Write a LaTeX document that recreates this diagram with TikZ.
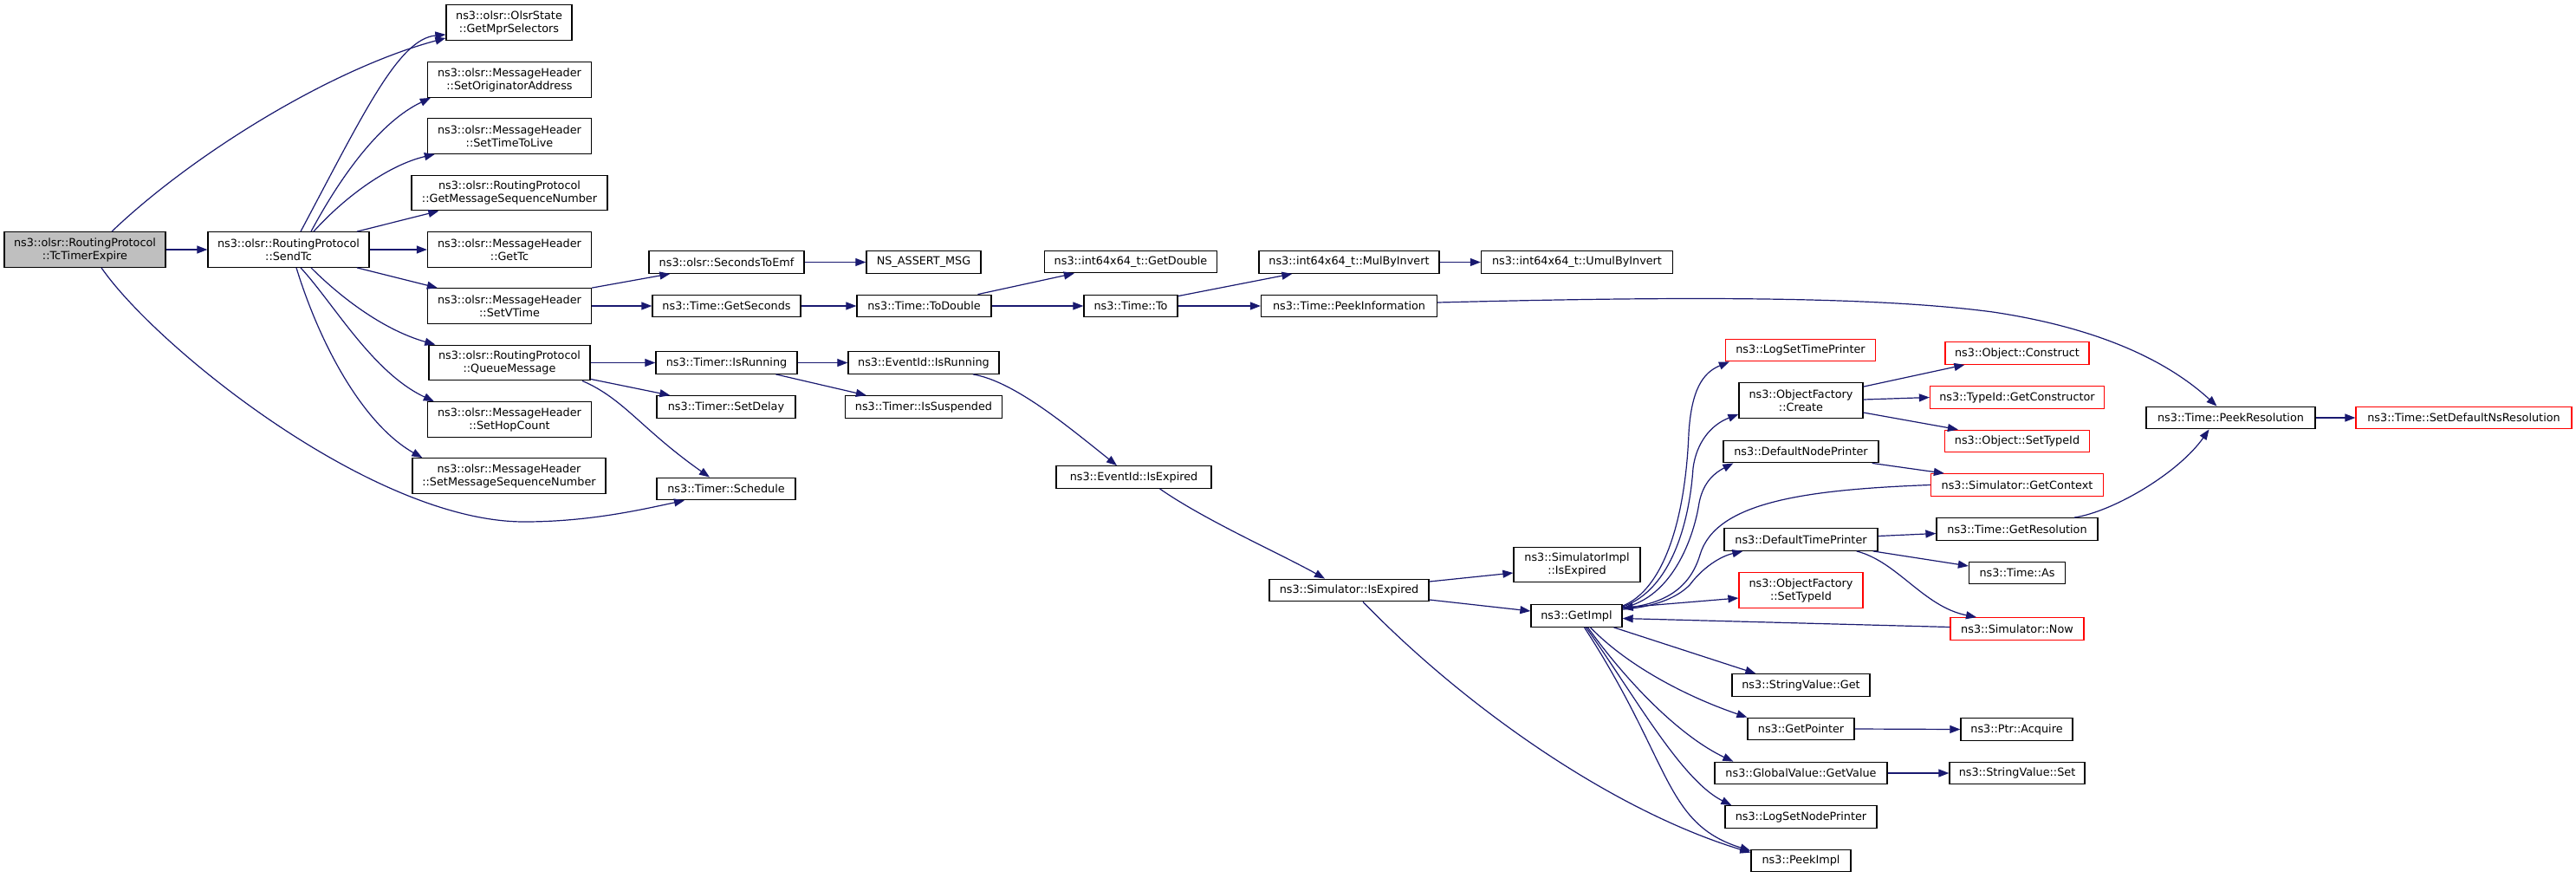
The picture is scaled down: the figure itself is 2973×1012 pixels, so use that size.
\documentclass[tikz,border=0pt]{standalone}
\usepackage{fontspec}
\setmainfont{DejaVu Sans}
\usetikzlibrary{arrows.meta}
\definecolor{edgecol}{RGB}{25,25,112}
\definecolor{grayfill}{RGB}{191,191,191}
\begin{document}
\begin{tikzpicture}[x=1pt,y=-1pt,
  box/.style={draw=black, line width=1.3pt, fill=white, inner sep=0pt, align=center,
    font=\fontsize{12.8}{15}\selectfont, minimum height=25.5pt},
  box2/.style={box, minimum height=40.5pt},
  redbox/.style={draw=red},
  edge/.style={draw=edgecol, line width=1.2pt, -{Triangle[length=12pt,width=9pt]}},
]
\useasboundingbox[fill=white] (0,0) rectangle (2973,1012);

% column 1-2
\node[box2, fill=grayfill, minimum width=186pt] (tcexp) at (98,288) {ns3::olsr::RoutingProtocol\\::TcTimerExpire};
\node[box2, minimum width=186pt] (sendtc) at (333,288) {ns3::olsr::RoutingProtocol\\::SendTc};
% column 3
\node[box2, minimum width=145pt] (getmpr) at (587.5,26) {ns3::olsr::OlsrState\\::GetMprSelectors};
\node[box2, minimum width=189pt] (setorig) at (588,92) {ns3::olsr::MessageHeader\\::SetOriginatorAddress};
\node[box2, minimum width=189pt] (setttl) at (588,157) {ns3::olsr::MessageHeader\\::SetTimeToLive};
\node[box2, minimum width=226pt] (getmsn) at (588,222.5) {ns3::olsr::RoutingProtocol\\::GetMessageSequenceNumber};
\node[box2, minimum width=189pt] (gettc) at (588,288) {ns3::olsr::MessageHeader\\::GetTc};
\node[box2, minimum width=189pt] (setvtime) at (588,353) {ns3::olsr::MessageHeader\\::SetVTime};
\node[box2, minimum width=186pt] (queue) at (588,418.5) {ns3::olsr::RoutingProtocol\\::QueueMessage};
\node[box2, minimum width=189pt] (sethop) at (588,484) {ns3::olsr::MessageHeader\\::SetHopCount};
\node[box2, minimum width=223pt] (setmsn) at (587.5,549) {ns3::olsr::MessageHeader\\::SetMessageSequenceNumber};
% column 4
\node[box, minimum width=179pt] (secemf) at (838.5,302.5) {ns3::olsr::SecondsToEmf};
\node[box, minimum width=171pt] (getsec) at (838.5,353) {ns3::Time::GetSeconds};
\node[box, minimum width=163pt] (tisrun) at (838.5,418.5) {ns3::Timer::IsRunning};
\node[box, minimum width=160pt] (setdelay) at (838,469.5) {ns3::Timer::SetDelay};
\node[box, minimum width=160pt] (sched) at (838,564) {ns3::Timer::Schedule};
% column 5
\node[box, minimum width=132pt] (nsassert) at (1066,302.5) {NS\_ASSERT\_MSG};
\node[box, minimum width=155pt] (todouble) at (1066.5,353) {ns3::Time::ToDouble};
\node[box, minimum width=174pt] (eisrun) at (1066,418.5) {ns3::EventId::IsRunning};
\node[box, minimum width=181pt] (issusp) at (1066,469.5) {ns3::Timer::IsSuspended};
% column 6
\node[box, minimum width=199pt] (getdouble) at (1305,302) {ns3::int64x64\_t::GetDouble};
\node[box, minimum width=108pt] (timeto) at (1305,353) {ns3::Time::To};
\node[box, minimum width=179pt] (eisexp) at (1308.5,550.5) {ns3::EventId::IsExpired};
% column 7
\node[box, minimum width=208pt] (mulinv) at (1557,302.5) {ns3::int64x64\_t::MulByInvert};
\node[box, minimum width=203pt] (peekinfo) at (1557,353) {ns3::Time::PeekInformation};
\node[box, minimum width=184pt] (simisexp) at (1557,681) {ns3::Simulator::IsExpired};
% column 8
\node[box, minimum width=221pt] (umulinv) at (1820,302.5) {ns3::int64x64\_t::UmulByInvert};
\node[box2, minimum width=146pt] (implisexp) at (1820,651.5) {ns3::SimulatorImpl\\::IsExpired};
\node[box, minimum width=105pt] (getimpl) at (1819.5,710.5) {ns3::GetImpl};
% column 9
\node[box, redbox, minimum width=173pt] (logtime) at (2078,404) {ns3::LogSetTimePrinter};
\node[box2, minimum width=143pt] (ofcreate) at (2078.5,462) {ns3::ObjectFactory\\::Create};
\node[box, minimum width=179pt] (defnode) at (2078.5,521) {ns3::DefaultNodePrinter};
\node[box, minimum width=177pt] (deftime) at (2078.5,622.5) {ns3::DefaultTimePrinter};
\node[box2, redbox, minimum width=143pt] (ofsettype) at (2078.5,681) {ns3::ObjectFactory\\::SetTypeId};
\node[box, minimum width=159pt] (svget) at (2078.5,790.5) {ns3::StringValue::Get};
\node[box, minimum width=123pt] (getptr) at (2078.5,841) {ns3::GetPointer};
\node[box, minimum width=199pt] (gvget) at (2078.5,892) {ns3::GlobalValue::GetValue};
\node[box, minimum width=175pt] (lognode) at (2078.5,942.5) {ns3::LogSetNodePrinter};
\node[box, minimum width=115pt] (peekimpl) at (2078.5,993) {ns3::PeekImpl};
% column 10
\node[box, redbox, minimum width=166pt] (objconst) at (2328,407.5) {ns3::Object::Construct};
\node[box, redbox, minimum width=201pt] (getctor) at (2328,458.5) {ns3::TypeId::GetConstructor};
\node[box, redbox, minimum width=167pt] (objsettype) at (2328,509) {ns3::Object::SetTypeId};
\node[box, redbox, minimum width=199pt] (getctx) at (2328,559.5) {ns3::Simulator::GetContext};
\node[box, minimum width=186pt] (getres) at (2328,610.5) {ns3::Time::GetResolution};
\node[box, minimum width=111pt] (timeas) at (2328,661) {ns3::Time::As};
\node[box, redbox, minimum width=154pt] (simnow) at (2328,725.5) {ns3::Simulator::Now};
\node[box, minimum width=129pt] (ptracq) at (2327.5,841.5) {ns3::Ptr::Acquire};
\node[box, minimum width=156pt] (svset) at (2328,892) {ns3::StringValue::Set};
% column 11-12
\node[box, minimum width=195pt] (peekres) at (2574.5,482) {ns3::Time::PeekResolution};
\node[box, redbox, minimum width=249pt] (setdefres) at (2843.5,482) {ns3::Time::SetDefaultNsResolution};

% edges from TcTimerExpire
\draw[edge] ([xshift=31pt]tcexp.north) .. controls (220,180) and (380,80) .. ([yshift=3pt]getmpr.south west);
\draw[edge] (tcexp.east) -- (sendtc.west);
\draw[edge] ([xshift=19pt]tcexp.south) .. controls (180,400) and (430,602) .. (605,602)
  .. controls (680,602) and (740,588) .. ([xshift=-48pt]sched.south);

% edges from SendTc
\draw[edge] ([xshift=14pt]sendtc.north) .. controls (420,130) and (460,45) .. ([yshift=7pt]getmpr.south west);
\draw[edge] ([xshift=26pt]sendtc.north) .. controls (395,200) and (440,140) .. ([xshift=4pt]setorig.south west);
\draw[edge] ([xshift=29pt]sendtc.north) .. controls (400,225) and (450,190) .. ([xshift=9pt]setttl.south west);
\draw[edge] ([xshift=79pt]sendtc.north) -- ([xshift=32pt]getmsn.south west);
\draw[edge] (sendtc.east) -- (gettc.west);
\draw[edge] ([xshift=79pt]sendtc.south) -- ([xshift=12pt]setvtime.north west);
\draw[edge] ([xshift=26pt]sendtc.south) .. controls (390,340) and (440,380) .. ([xshift=8pt]queue.north west);
\draw[edge] ([xshift=14pt]sendtc.south) .. controls (385,350) and (430,430) .. ([xshift=8pt]sethop.north west);
\draw[edge] ([xshift=9pt]sendtc.south) .. controls (370,400) and (420,490) .. ([xshift=12pt]setmsn.north west);

% SetVTime chain
\draw[edge] (setvtime.north east) -- ([xshift=25pt]secemf.south west);
\draw[edge] (setvtime.east) -- (getsec.west);
\draw[edge] (secemf.east) -- (nsassert.west);
\draw[edge] (getsec.east) -- (todouble.west);
\draw[edge] ([xshift=62pt]todouble.north) -- ([xshift=35pt]getdouble.south west);
\draw[edge] (todouble.east) -- (timeto.west);
\draw[edge] ([yshift=-2pt]timeto.north east) -- ([xshift=39pt]mulinv.south west);
\draw[edge] (timeto.east) -- (peekinfo.west);
\draw[edge] (mulinv.east) -- (umulinv.west);
\draw[edge] ([yshift=4pt]peekinfo.east) .. controls (1900,343) and (2150,340) .. (2300,360)
  .. controls (2420,378) and (2500,415) .. ([xshift=-16pt]peekres.north);

% QueueMessage chain
\draw[edge] (queue.east) -- (tisrun.west);
\draw[edge] ([yshift=2pt]queue.south east) -- ([xshift=16pt]setdelay.north west);
\draw[edge] ([xshift=84pt]queue.south) .. controls (720,460) and (740,495) .. ([xshift=-19pt]sched.north);
\draw[edge] (tisrun.east) -- (eisrun.west);
\draw[edge] ([xshift=57pt]tisrun.south) -- ([xshift=25pt]issusp.north west);
\draw[edge] ([xshift=57pt]eisrun.south) .. controls (1170,440) and (1230,490) .. ([xshift=-19.5pt]eisexp.north);
\draw[edge] ([xshift=30pt]eisexp.south) .. controls (1390,600) and (1480,640) .. ([xshift=-28pt]simisexp.north);

% Simulator::IsExpired
\draw[edge] ([yshift=10pt]simisexp.east) -- ([yshift=-9.5pt]implisexp.west);
\draw[edge] ([yshift=-11pt]simisexp.east) -- ([yshift=5.5pt]getimpl.west);
\draw[edge] ([xshift=16pt]simisexp.south) .. controls (1690,815) and (1860,935) .. ([yshift=-4pt]peekimpl.north west);

% GetImpl outgoing
\draw[edge] ([yshift=-2pt]getimpl.north east) .. controls (1920,680) and (1945,600) .. (1949,500)
  .. controls (1952,450) and (1965,430) .. ([xshift=5pt]logtime.south west);
\draw[edge] ([yshift=-3pt]getimpl.north east) .. controls (1930,680) and (1950,600) .. (1954,540)
  .. controls (1958,510) and (1975,490) .. ([yshift=5pt]ofcreate.south west);
\draw[edge] ([yshift=-4pt]getimpl.north east) .. controls (1930,690) and (1955,620) .. (1961,580)
  .. controls (1966,555) and (1980,545) .. ([xshift=12pt]defnode.south west);
\draw[edge] ([yshift=-6pt]getimpl.north east) .. controls (1910,700) and (1935,690) .. (1950,675)
  .. controls (1965,655) and (1985,642) .. ([xshift=22pt]deftime.south west);
\draw[edge] ([yshift=-4pt]getimpl.north east) -- ([yshift=-9pt]ofsettype.west);
\draw[edge] ([xshift=43pt]getimpl.south) -- ([xshift=28pt]svget.north west);
\draw[edge] ([xshift=16pt]getimpl.south) .. controls (1880,770) and (1950,805) .. (getptr.north west);
\draw[edge] ([xshift=13pt]getimpl.south) .. controls (1880,790) and (1940,850) .. ([xshift=22pt]gvget.north west);
\draw[edge] ([xshift=11pt]getimpl.south) .. controls (1885,800) and (1940,900) .. ([xshift=8pt]lognode.north west);
\draw[edge] ([xshift=9pt]getimpl.south) .. controls (1930,880) and (1920,950) .. ([yshift=-2pt]peekimpl.north west);

% incoming to GetImpl
\draw[edge] (getctx.west) .. controls (2080,565) and (1980,580) .. (1962,640)
  .. controls (1950,680) and (1920,695) .. ([yshift=-5pt]getimpl.north east);
\draw[edge] ([yshift=2pt]simnow.west) -- ([yshift=-3pt]getimpl.east);

% right side
\draw[edge] ([yshift=-5pt]ofcreate.north east) -- ([xshift=23pt]objconst.south west);
\draw[edge] ([yshift=1pt]ofcreate.east) -- (getctor.west);
\draw[edge] ([yshift=-14pt]ofcreate.east) -- ([xshift=16pt]objsettype.north west);
\draw[edge] ([xshift=-8pt]defnode.south east) -- ([xshift=16pt]getctx.north west);
\draw[edge] ([yshift=4pt]deftime.east) -- ([yshift=-5pt]getres.west);
\draw[edge] ([xshift=-6pt]deftime.south east) -- ([yshift=8pt]timeas.west);
\draw[edge] ([xshift=-25pt]deftime.south east) .. controls (2190,648) and (2220,700) .. ([xshift=-47pt]simnow.north);
\draw[edge] ([xshift=66pt]getres.north) .. controls (2440,590) and (2515,545) .. ([xshift=-25pt]peekres.south);
\draw[edge] (peekres.east) -- (setdefres.west);
\draw[edge] (getptr.east) -- (ptracq.west);
\draw[edge] (gvget.east) -- (svset.west);
\end{tikzpicture}
\end{document}
